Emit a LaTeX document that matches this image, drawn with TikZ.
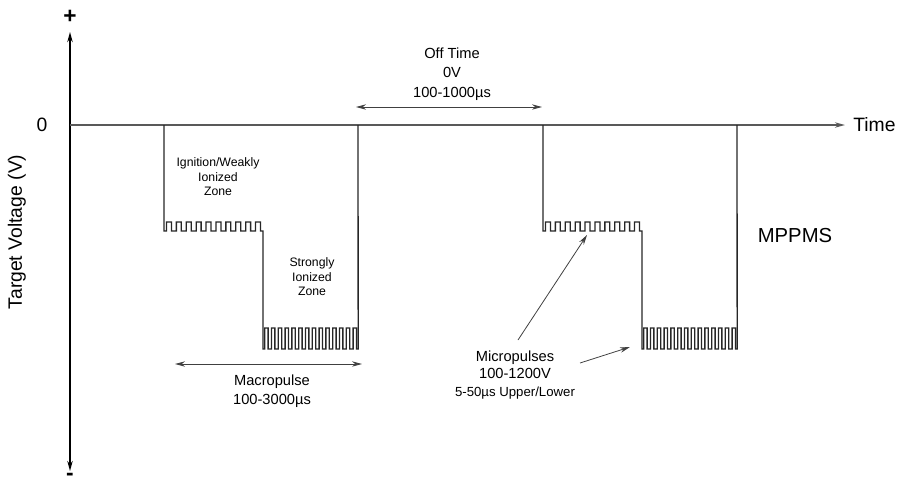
\documentclass[tikz,border=0pt]{standalone}
\usepackage{fontspec}
\setmainfont{Liberation Sans}
\usetikzlibrary{arrows.meta}

\begin{document}
\begin{tikzpicture}[x=0.75pt,y=-0.75pt,>={Stealth[length=7.5pt,width=4pt]},
  axis line/.style={line width=1.4pt},
  wave line/.style={line width=1pt,draw=black!85},
  note arrow/.style={line width=0.6pt,draw=black!75},
  label text/.style={font=\fontsize{11}{14.5}\selectfont,align=center,inner sep=0pt},
  zone text/.style={font=\fontsize{9.2}{10.9}\selectfont,align=center,inner sep=0pt},
  big text/.style={font=\fontsize{14.5}{17}\selectfont,inner sep=0pt}]

        \useasboundingbox (0,0) rectangle (901,487);

        % axes
        \coordinate (vtop) at (70,32);
        \coordinate (vbot) at (70,471);
        \coordinate (zero) at (70,125);
        \coordinate (tend) at (845,125);

        \draw[axis line,<->] (vbot) -- (vtop);
        \draw[axis line,draw=black!65,->] (zero) -- (tend);

        \node[big text] (plus) at (70,17) {\fontsize{17}{17}\selectfont\textbf{+}};
        \node[big text] (minus) at (70,477) {\fontsize{17}{17}\selectfont\textbf{-}};
        \node[big text] (zerolbl) at (42,125) {0};
        \node[big text,rotate=90] (vlabel) at (17,232) {Target Voltage (V)};
        \node[big text,anchor=west] (timelbl) at (853,125) {Time};
        \node[big text,font=\fontsize{15.2}{17}\selectfont] (mppms) at (795,236) {MPPMS};

        % the two macropulses with their micropulses
        \foreach \s in {164,543}{
          \draw[wave line] (\s,125) -- (\s,231)
            \foreach \k in {1,...,10}{ -- ++(2.475,0) -- ++(0,-9) -- ++(4.95,0) -- ++(0,9) -- ++(2.475,0) }
            -- (\s+99,349)
            \foreach \k in {1,...,14}{ -- ++(1.7,0) -- ++(0,-21) -- ++(3.4,0) -- ++(0,21) -- ++(1.7,0) }
            -- (\s+194,125);
        }

        \node[zone text] (weak) at (218,177) {Ignition/Weakly\\Ionized\\Zone};
        \node[zone text] (strong) at (312,277) {Strongly\\Ionized\\Zone};

        % off time
        \node[label text,font=\fontsize{11}{14.5}\selectfont] (offtime) at (452,74) {Off Time\\0V\\100-1000µs};
        \coordinate (offl) at (356,107);
        \coordinate (offr) at (542,107);
        \draw[note arrow,<->] (offl) -- (offr);

        % macropulse
        \coordinate (macl) at (175,364);
        \coordinate (macr) at (362,364);
        \draw[note arrow,<->] (macl) -- (macr);
        \node[label text,font=\fontsize{11}{14.3}\selectfont] (macro) at (272,391) {Macropulse\\100-3000µs};

        % micropulses
        \node[label text,font=\fontsize{11}{13}\selectfont] (micro) at (515,375)
             {Micropulses\\100-1200V\\{\fontsize{9.9}{13}\selectfont 5-50µs Upper/Lower}};
        \coordinate (upper) at (587,235);
        \coordinate (lower) at (630,347);
        \draw[note arrow,->] (518,340) -- (upper);
        \draw[note arrow,->] (580,363) -- (lower);
    \end{tikzpicture}
\end{document}
